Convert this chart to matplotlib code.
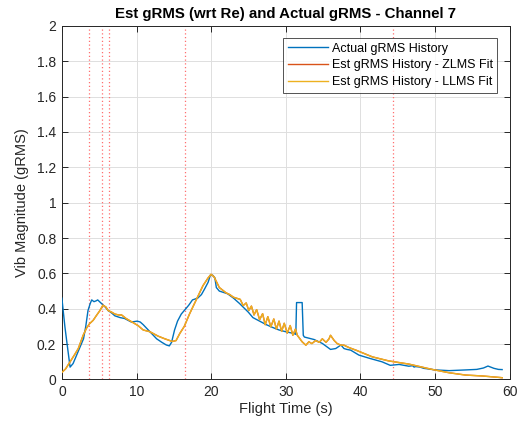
import matplotlib
matplotlib.use("Agg")
import matplotlib.pyplot as plt

# Actual gRMS history (flight time s, gRMS)
t_actual = [0, 0.4, 0.7, 1.1, 1.5, 2.0, 2.4, 2.9, 3.2, 3.5, 3.8, 4.0, 4.3, 4.6, 4.8,
            5.3, 5.8, 6.2, 6.7, 7.1, 7.8, 8.4, 9.3, 10.1, 10.5, 10.9, 11.8, 12.7, 13.4, 14.0,
            14.4, 14.7, 15.1, 15.5, 16.0, 16.4, 17.0, 17.5, 18.2, 18.7, 19.1, 19.6, 19.9, 20.2,
            20.5, 20.7, 21.1, 22.2, 23.0, 23.8, 25.0, 25.6, 26.5, 27.4, 28.2, 29.1, 30.0, 31.1,
            31.35, 31.45, 32.2, 32.35, 32.5, 33.8, 34.9, 36.0, 36.7, 37.4, 37.8, 38.2, 38.7,
            39.8, 41.2, 42.9, 44.0, 45.2, 46.5, 47.0, 47.2, 47.4, 48.0, 48.5, 50.1, 51.9, 54.1,
            55.6, 56.5, 57.1, 57.9, 58.5, 59.0]
g_actual = [0.46, 0.30, 0.20, 0.07, 0.09, 0.14, 0.18, 0.23, 0.30, 0.39, 0.43, 0.45, 0.44, 0.445, 0.45,
            0.43, 0.41, 0.39, 0.375, 0.36, 0.35, 0.345, 0.325, 0.33, 0.325, 0.31, 0.27, 0.23, 0.21, 0.195,
            0.19, 0.21, 0.28, 0.33, 0.37, 0.39, 0.42, 0.45, 0.46, 0.48, 0.51, 0.55, 0.59, 0.59,
            0.575, 0.52, 0.50, 0.485, 0.46, 0.43, 0.38, 0.35, 0.33, 0.31, 0.295, 0.28, 0.27, 0.26,
            0.255, 0.435, 0.435, 0.25, 0.24, 0.226, 0.204, 0.17, 0.175, 0.195, 0.175, 0.17, 0.166,
            0.138, 0.12, 0.10, 0.08, 0.085, 0.075, 0.078, 0.07, 0.073, 0.07, 0.063, 0.054, 0.05, 0.054,
            0.057, 0.065, 0.076, 0.063, 0.057, 0.056]

# Estimated gRMS history (LLMS fit)
t_llms = [0, 0.5, 1.1, 1.7, 2.2, 2.85, 3.3, 3.7, 4.2, 4.6, 5.1, 5.5, 5.9, 6.2, 6.7,
          7.1, 7.6, 8.0, 8.6, 9.4, 10.2, 10.9, 11.8, 12.9, 13.8, 14.8, 15.3, 15.8, 16.4, 17.1,
          18.0, 18.9, 19.6, 20.0, 20.4, 21.1, 22.0, 22.5, 23.0, 23.9, 24.3, 24.7, 25.05, 25.4,
          25.75, 26.1, 26.5, 26.9, 27.25, 27.6, 28.0, 28.4, 28.75, 29.1, 29.45, 29.8, 30.2, 30.6,
          30.95, 31.3, 31.55, 32.2, 32.7, 33.1, 33.5, 34.0, 34.5, 34.9, 35.4, 35.8, 36.0, 36.5,
          36.9, 37.4, 37.8, 38.5, 39.4, 41.6, 43.8, 46.5, 49.6, 51.9, 54.1, 56.3, 58.5, 59.0]
g_llms = [0.04, 0.06, 0.10, 0.14, 0.175, 0.25, 0.29, 0.315, 0.335, 0.36, 0.39, 0.42, 0.41, 0.39, 0.38,
          0.37, 0.365, 0.365, 0.345, 0.325, 0.305, 0.28, 0.27, 0.245, 0.23, 0.215, 0.22, 0.26, 0.30, 0.37,
          0.45, 0.53, 0.575, 0.595, 0.58, 0.52, 0.49, 0.48, 0.465, 0.453, 0.418, 0.433, 0.39, 0.415,
          0.365, 0.395, 0.338, 0.372, 0.31, 0.355, 0.298, 0.342, 0.285, 0.33, 0.272, 0.318, 0.262, 0.305,
          0.25, 0.285, 0.25, 0.213, 0.194, 0.213, 0.203, 0.22, 0.21, 0.23, 0.21, 0.23, 0.25, 0.22,
          0.203, 0.194, 0.194, 0.18, 0.166, 0.128, 0.105, 0.087, 0.057, 0.038, 0.025, 0.02, 0.012, 0.01]

# Estimated gRMS history (ZLMS fit) - coincides with the LLMS fit
t_zlms = t_llms
g_zlms = g_llms

# Flight event markers
event_times = [3.6, 5.4, 6.3, 16.5, 44.4]

x_ticks = [0, 10, 20, 30, 40, 50, 60]
y_ticks = [0, 0.2, 0.4, 0.6, 0.8, 1.0, 1.2, 1.4, 1.6, 1.8, 2.0]
y_tick_labels = ["0", "0.2", "0.4", "0.6", "0.8", "1", "1.2", "1.4", "1.6", "1.8", "2"]

plt.rcParams["font.family"] = ["Liberation Sans", "DejaVu Sans"]

fig = plt.figure(figsize=(5.2, 4.24), dpi=100)
ax = fig.add_axes([0.119, 0.105, 0.861, 0.834])

for te in event_times:
    ax.axvline(te, color="#ff6f6f", linestyle=(0, (1, 2)), linewidth=0.9, zorder=1)

ax.plot(t_actual, g_actual, color="#0072BD", linewidth=1.0, label="Actual gRMS History", zorder=3)
ax.plot(t_zlms, g_zlms, color="#D95319", linewidth=1.0, label="Est gRMS History - ZLMS Fit", zorder=4)
ax.plot(t_llms, g_llms, color="#EDB120", linewidth=1.0, label="Est gRMS History - LLMS Fit", zorder=5)

ax.set_xlim(0, 60)
ax.set_ylim(0, 2)
ax.set_xticks(x_ticks)
ax.set_yticks(y_ticks)
ax.set_yticklabels(y_tick_labels)
ax.grid(True, color="#dedede", linewidth=0.7)
ax.set_axisbelow(True)
ax.tick_params(direction="in", top=True, right=True, length=4, width=0.7,
               labelsize=10, colors="#262626", pad=4)
for s in ax.spines.values():
    s.set_color("#262626")
    s.set_linewidth(0.7)

ax.set_xlabel("Flight Time (s)", fontsize=10.5, color="#262626", labelpad=2)
ax.set_ylabel("Vib Magnitude (gRMS)", fontsize=10.5, color="#262626", labelpad=6)
ax.set_title("Est gRMS (wrt Re) and Actual gRMS - Channel 7", fontsize=10.8,
             fontweight="bold", color="#000000", pad=6)

leg = ax.legend(loc="upper right", fontsize=9, frameon=True, fancybox=False,
                edgecolor="#262626", handlelength=3.2, borderpad=0.35,
                labelspacing=0.38, handletextpad=0.3, borderaxespad=1.0)
leg.get_frame().set_linewidth(0.7)
for line in leg.get_lines():
    line.set_linewidth(1.0)

fig.savefig("out.png", dpi=100)
